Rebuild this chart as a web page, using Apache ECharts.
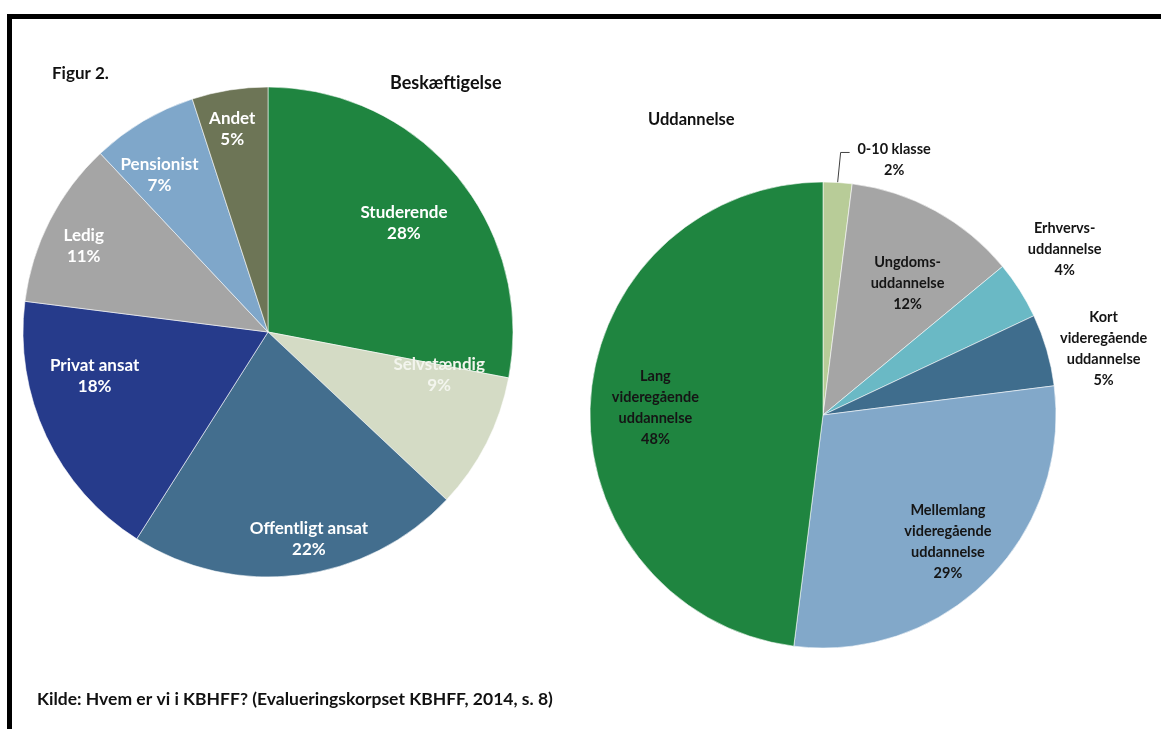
<!DOCTYPE html>
<html><head><meta charset="utf-8">
<script src="https://cdn.jsdelivr.net/npm/echarts@6/dist/echarts.min.js"></script>
<style>
html,body{margin:0;padding:0;background:#fff}
#c{width:1161px;height:729px}
#frame{position:absolute;left:7px;top:14px;right:0;bottom:0;border-top:5px solid #000;border-left:5px solid #000;pointer-events:none}
</style>
</head><body><div id="c"></div><div id="frame"></div>
<script>
// ---- data ----
const jobCategories = ['Studerende','Selvstændig','Offentligt ansat','Privat ansat','Ledig','Pensionist','Andet'];
const jobValues = [28, 9, 22, 18, 11, 7, 5];
const eduCategories = ['0-10 klasse','Ungdoms-\nuddannelse','Erhvervs-\nuddannelse','Kort\nvideregående\nuddannelse','Mellemlang\nvideregående\nuddannelse','Lang\nvideregående\nuddannelse'];
const eduValues = [2, 12, 4, 5, 29, 48];

// ---- styles ----
const FONT = 'Lato';
const jobColors = ['#1f8540','#d4dbc5','#436e8e','#263b8b','#a5a5a5','#7fa7ca','#6d7556'];
const eduColors = ['#b8cc98','#a5a5a5','#6ab9c5','#3f6d8d','#82a8c9','#1f8540'];
const jobCenter = [268, 332], jobR = 245;
const eduCenter = [823, 415], eduR = 233;
// label placement: [angle shift deg, radius fraction]
const jobLabelPlace = [[1,0.71],[-13,0.72],[-4,0.86],[11,0.73],[-2,0.83],[-4,0.78],[-1,0.84]];
const eduLabelPlace = [[12,1.135],[4,0.67],[-2,1.257],[3,1.237],[0.5,0.765],[-1,0.72]];

function makeLayout(values, center, r, place, leaderIdx) {
  const total = values.reduce((a, b) => a + b, 0);
  return function (p) {
    const i = p.dataIndex;
    let before = 0;
    for (let j = 0; j < i; j++) before += values[j];
    const mid = (before + values[i] / 2) / total * 360;
    const a = (mid + place[i][0]) * Math.PI / 180;
    const R = place[i][1] * r;
    const out = {
      x: center[0] + R * Math.sin(a),
      y: center[1] - R * Math.cos(a),
      align: 'center', verticalAlign: 'middle'
    };
    if (i === leaderIdx) {
      const m = mid * Math.PI / 180;
      const p1 = [center[0] + r * Math.sin(m), center[1] - r * Math.cos(m)];
      const p2 = [p1[0] + 3, p1[1] - 30];
      const p3 = [p2[0] + 9, p2[1]];
      out.labelLinePoints = [p1, p2, p3];
    }
    return out;
  };
}

const chart = echarts.init(document.getElementById('c'), null, {renderer: 'canvas'});
const titleStyle = (size) => ({fontFamily: FONT, fontWeight: 'bold', fontSize: size, color: '#111'});
chart.setOption({
  animation: false,
  backgroundColor: '#ffffff',
  title: [
    {text: 'Figur 2.', left: 47, top: 60, textStyle: titleStyle(17)},
    {text: 'Beskæftigelse', left: 385, top: 69, textStyle: titleStyle(18)},
    {text: 'Uddannelse', left: 643, top: 106, textStyle: titleStyle(16.5)},
    {text: 'Kilde: Hvem er vi i KBHFF? (Evalueringskorpset KBHFF, 2014, s. 8)', left: 32, top: 685, textStyle: titleStyle(17.5)}
  ],
  series: [
    {
      type: 'pie', name: 'Beskæftigelse', center: jobCenter, radius: [0, jobR],
      startAngle: 90, clockwise: true, avoidLabelOverlap: false, silent: true,
      itemStyle: {borderWidth: 0.8, borderColor: 'rgba(255,255,255,0.7)'},
      label: {position: 'inside', formatter: '{b}\n{c}%', color: '#ffffff', fontFamily: FONT, fontWeight: 'bold', fontSize: 17, lineHeight: 21},
      labelLine: {show: false},
      labelLayout: makeLayout(jobValues, jobCenter, jobR, jobLabelPlace, -1),
      data: jobCategories.map((n, i) => ({name: n, value: jobValues[i], itemStyle: {color: jobColors[i]},
        label: i === 1 ? {color: '#f3f5ee'} : undefined}))
    },
    {
      type: 'pie', name: 'Uddannelse', center: eduCenter, radius: [0, eduR],
      startAngle: 90, clockwise: true, avoidLabelOverlap: false, silent: true,
      itemStyle: {borderWidth: 0.8, borderColor: 'rgba(255,255,255,0.7)'},
      label: {position: 'inside', formatter: '{b}\n{c}%', color: '#151515', fontFamily: FONT, fontWeight: 'bold', fontSize: 14.5, lineHeight: 21},
      labelLine: {show: false},
      labelLayout: makeLayout(eduValues, eduCenter, eduR, eduLabelPlace, 0),
      data: eduCategories.map((n, i) => ({name: n, value: eduValues[i], itemStyle: {color: eduColors[i]},
        label: (i === 0 || i === 2 || i === 3) ? {position: 'outside'} : undefined,
        labelLine: i === 0 ? {show: true, lineStyle: {color: '#404040', width: 1}} : undefined}))
    }
  ]
});
</script>
</body></html>
